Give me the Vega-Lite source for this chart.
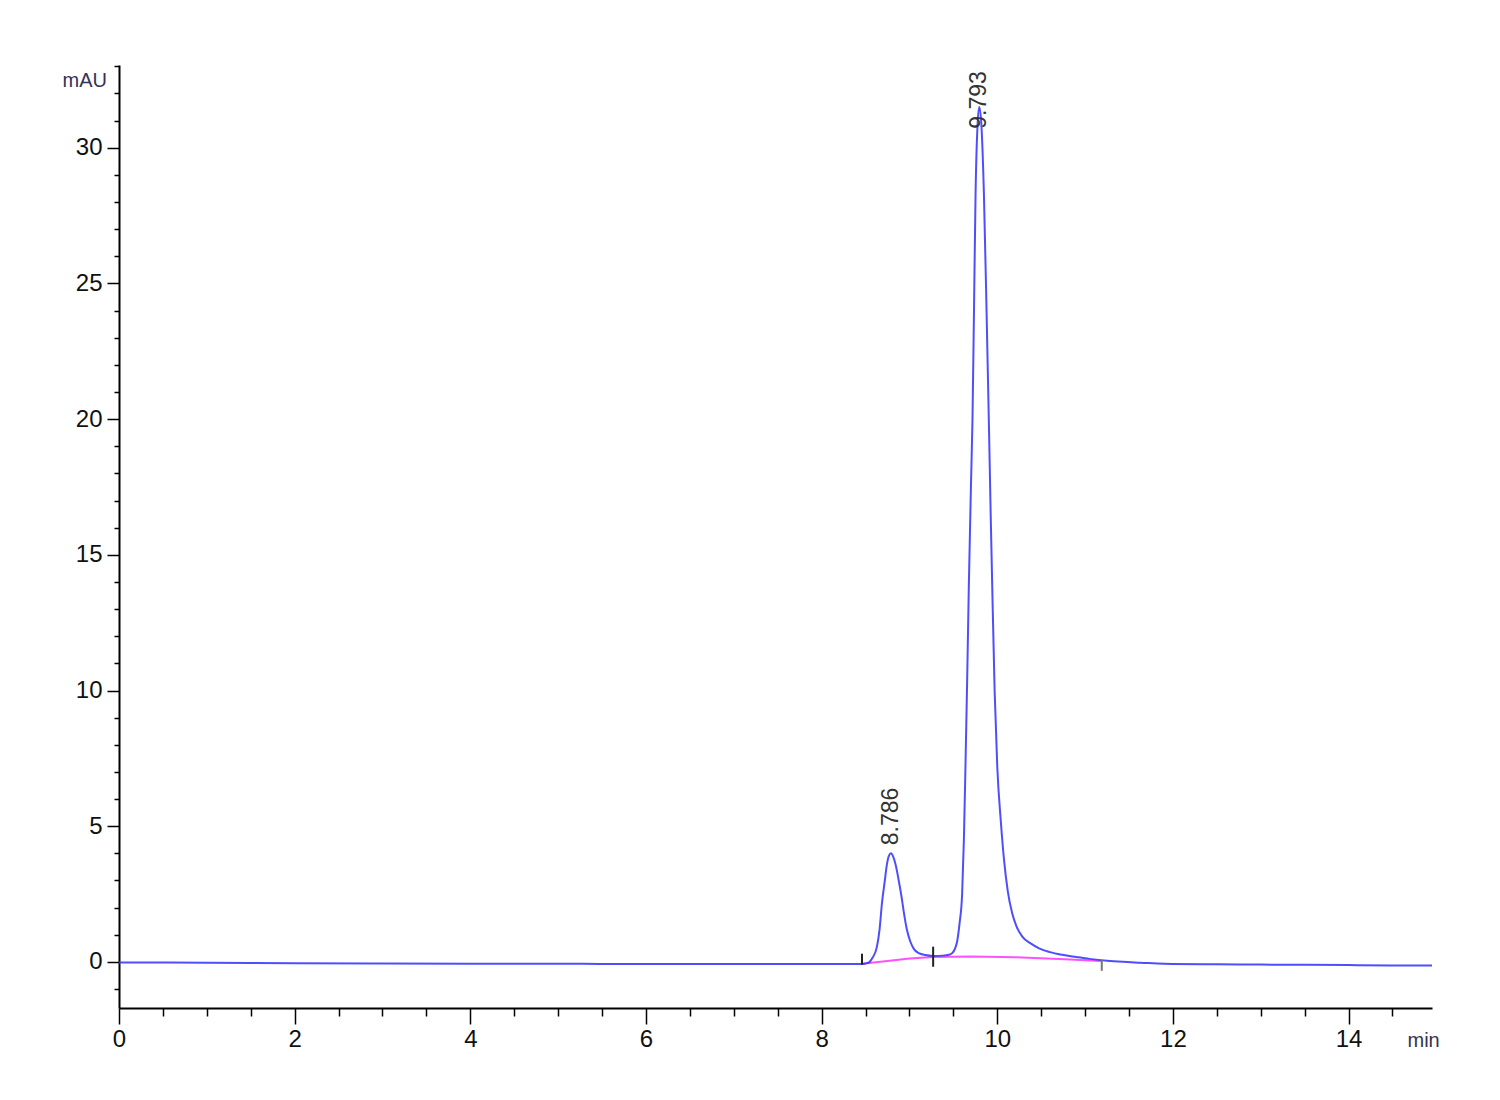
{
  "$schema": "https://vega.github.io/schema/vega-lite/v6.json",
  "autosize": {"type": "none"},
  "padding": {"left": 119, "top": 65, "right": 68, "bottom": 92},
  "width": 1313,
  "height": 943,
  "background": "white",
  "config": {
    "view": {"stroke": null},
    "axis": {
      "grid": false,
      "domainColor": "#000000",
      "domainWidth": 2,
      "tickColor": "#000000",
      "tickWidth": 1.5,
      "labelColor": "#111111",
      "labelFont": "Liberation Sans",
      "labelFontSize": 24,
      "titleFont": "Liberation Sans",
      "titleFontSize": 20,
      "titleFontWeight": "normal",
      "titleColor": "#333355"
    }
  },
  "encoding": {
    "x": {
      "field": "t",
      "type": "quantitative",
      "scale": {"domain": [0, 14.95], "nice": false, "zero": false},
      "axis": {
        "title": "min",
        "titleX": 1288,
        "titleY": 32,
        "titleAlign": "left",
        "titleBaseline": "middle",
        "values": [0, 0.5, 1, 1.5, 2, 2.5, 3, 3.5, 4, 4.5, 5, 5.5, 6, 6.5, 7, 7.5, 8, 8.5, 9, 9.5, 10, 10.5, 11, 11.5, 12, 12.5, 13, 13.5, 14, 14.5],
        "labelExpr": "datum.value % 2 === 0 ? format(datum.value, 'd') : ''",
        "tickSize": {"condition": {"test": "datum.value % 2 === 0", "value": 16}, "value": 8},
        "labelPadding": 3,
        "labelFlush": false,
        "labelOverlap": false
      }
    },
    "y": {
      "field": "v",
      "type": "quantitative",
      "scale": {"domain": [-1.7, 33.05], "nice": false, "zero": false},
      "axis": {
        "title": "mAU",
        "titleAngle": 0,
        "titleX": -57,
        "titleY": 15,
        "titleAlign": "left",
        "titleBaseline": "middle",
        "values": [-1, 0, 1, 2, 3, 4, 5, 6, 7, 8, 9, 10, 11, 12, 13, 14, 15, 16, 17, 18, 19, 20, 21, 22, 23, 24, 25, 26, 27, 28, 29, 30, 31, 32, 33],
        "labelExpr": "datum.value % 5 === 0 ? format(datum.value, 'd') : ''",
        "tickSize": {"condition": {"test": "datum.value % 5 === 0", "value": 12}, "value": 5},
        "labelPadding": 5,
        "labelOverlap": false
      }
    }
  },
  "layer": [
    {
      "data": {
        "values": [
          {"t": 8.46, "v": -0.07},
          {"t": 8.8, "v": 0.05},
          {"t": 9.0, "v": 0.12},
          {"t": 9.27, "v": 0.18},
          {"t": 9.7, "v": 0.2},
          {"t": 10.2, "v": 0.17},
          {"t": 10.7, "v": 0.11},
          {"t": 11.19, "v": 0.03}
        ]
      },
      "mark": {"type": "line", "color": "#ff33ff", "strokeWidth": 2, "opacity": 0.85}
    },
    {
      "data": {
        "values": [
          {"t": 0, "v": -0.02},
          {"t": 1, "v": -0.03},
          {"t": 2, "v": -0.05},
          {"t": 3, "v": -0.06},
          {"t": 4, "v": -0.07},
          {"t": 5, "v": -0.07},
          {"t": 6, "v": -0.08},
          {"t": 7, "v": -0.08},
          {"t": 8, "v": -0.08},
          {"t": 8.45, "v": -0.08},
          {"t": 8.5, "v": -0.06},
          {"t": 8.535, "v": -0.03},
          {"t": 8.58, "v": 0.15},
          {"t": 8.63, "v": 0.56},
          {"t": 8.66, "v": 1.2},
          {"t": 8.687, "v": 2.16},
          {"t": 8.72, "v": 3.0},
          {"t": 8.744, "v": 3.6},
          {"t": 8.765, "v": 3.9},
          {"t": 8.79, "v": 4.0},
          {"t": 8.815, "v": 3.88},
          {"t": 8.845, "v": 3.55},
          {"t": 8.878, "v": 3.0},
          {"t": 8.91, "v": 2.4},
          {"t": 8.935, "v": 1.85},
          {"t": 8.97, "v": 1.2},
          {"t": 9.01, "v": 0.75},
          {"t": 9.05, "v": 0.48},
          {"t": 9.106, "v": 0.32},
          {"t": 9.18, "v": 0.25},
          {"t": 9.27, "v": 0.22},
          {"t": 9.38, "v": 0.23},
          {"t": 9.45, "v": 0.26},
          {"t": 9.49, "v": 0.33},
          {"t": 9.52, "v": 0.5},
          {"t": 9.543, "v": 0.75},
          {"t": 9.57, "v": 1.4},
          {"t": 9.6, "v": 2.5},
          {"t": 9.62, "v": 4.5},
          {"t": 9.638, "v": 7.2},
          {"t": 9.658, "v": 10.5},
          {"t": 9.676, "v": 13.8},
          {"t": 9.7, "v": 17.5},
          {"t": 9.718, "v": 20.0},
          {"t": 9.737, "v": 24.5},
          {"t": 9.753, "v": 28.3},
          {"t": 9.775, "v": 30.8},
          {"t": 9.795, "v": 31.5},
          {"t": 9.82, "v": 30.8},
          {"t": 9.848, "v": 28.3},
          {"t": 9.878, "v": 24.0},
          {"t": 9.905, "v": 19.8},
          {"t": 9.925, "v": 16.5},
          {"t": 9.943, "v": 13.8},
          {"t": 9.97, "v": 10.0},
          {"t": 10.0, "v": 7.2},
          {"t": 10.04, "v": 5.2},
          {"t": 10.077, "v": 3.76},
          {"t": 10.12, "v": 2.6},
          {"t": 10.17, "v": 1.79},
          {"t": 10.22, "v": 1.3},
          {"t": 10.285, "v": 0.93},
          {"t": 10.38, "v": 0.68},
          {"t": 10.476, "v": 0.5},
          {"t": 10.6, "v": 0.36},
          {"t": 10.74, "v": 0.26},
          {"t": 10.9, "v": 0.18},
          {"t": 11.05, "v": 0.11},
          {"t": 11.25, "v": 0.04},
          {"t": 11.43, "v": 0.0},
          {"t": 11.63, "v": -0.03},
          {"t": 11.9, "v": -0.07},
          {"t": 12.5, "v": -0.09},
          {"t": 13, "v": -0.1},
          {"t": 13.5, "v": -0.11},
          {"t": 14, "v": -0.12},
          {"t": 14.5, "v": -0.13},
          {"t": 14.95, "v": -0.13}
        ]
      },
      "mark": {"type": "line", "color": "#3b3bff", "strokeWidth": 2, "opacity": 0.9, "interpolate": "monotone"}
    },
    {
      "data": {
        "values": [
          {"t": 8.46, "v": -0.1, "v2": 0.3, "c": "#222222"},
          {"t": 9.27, "v": -0.18, "v2": 0.56, "c": "#222222"},
          {"t": 11.19, "v": -0.33, "v2": 0.07, "c": "#777777"}
        ]
      },
      "mark": {"type": "rule", "strokeWidth": 2},
      "encoding": {
        "y2": {"field": "v2"},
        "color": {"field": "c", "type": "nominal", "scale": null}
      }
    },
    {
      "data": {
        "values": [
          {"t": 8.786, "v": 4.3, "label": "8.786"},
          {"t": 9.793, "v": 30.7, "label": "9.793"}
        ]
      },
      "mark": {
        "type": "text",
        "angle": 270,
        "align": "left",
        "baseline": "middle",
        "font": "Liberation Sans",
        "fontSize": 23,
        "color": "#333333"
      },
      "encoding": {
        "text": {"field": "label"}
      }
    }
  ]
}
